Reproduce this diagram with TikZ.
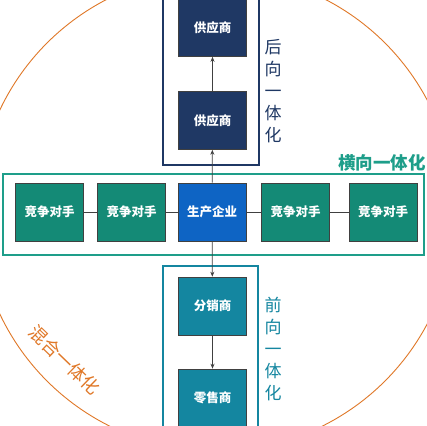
\documentclass[tikz,border=0pt]{standalone}
\usepackage{fontspec}
\newfontfamily\cjk{Noto Sans CJK SC}
\usetikzlibrary{arrows.meta}
\definecolor{navy}{RGB}{31,56,100}
\definecolor{teal1}{RGB}{20,138,118}
\definecolor{prodblue}{RGB}{14,100,196}
\definecolor{tealblue}{RGB}{20,134,160}
\definecolor{bandteal}{RGB}{30,158,138}
\definecolor{orng}{RGB}{224,120,40}
\definecolor{conn}{RGB}{64,64,64}
\tikzset{
  boxbase/.style={draw=black!75, line width=0.6pt, minimum width=68pt, minimum height=58pt, inner sep=0pt, text=white, font=\cjk\bfseries\fontsize{12.5}{14}\selectfont},
  supbox/.style={boxbase, fill=navy},
  compbox/.style={boxbase, fill=teal1},
  prodbox/.style={boxbase, fill=prodblue},
  distbox/.style={boxbase, fill=tealblue},
  conline/.style={draw=conn, line width=0.8pt},
  conarrow/.style={conline, -{Stealth[length=5pt,width=4pt]}},
  vlabel/.style={align=center, inner sep=0pt, font=\cjk\fontsize{17}{22}\selectfont}
}
\begin{document}
\begin{tikzpicture}[x=1pt,y=-1pt]
\useasboundingbox (0,0) rectangle (427,425);
\clip (0,0) rectangle (427,425);
\fill[white] (0,0) rectangle (427,425);
% mixed integration circle
\draw[orng, line width=0.9pt] (216,212) circle[radius=239pt];
% group frames
\draw[navy, line width=1.2pt] (163,-5) rectangle (259,165);
\draw[tealblue, line width=1.2pt] (163,266) rectangle (258,432);
\draw[bandteal, line width=1.3pt] (3,174) rectangle (424,255);
% nodes
\node[supbox] (s1) at (212.5,27.5) {供应商};
\node[supbox] (s2) at (212.5,120.5) {供应商};
\node[compbox] (c1) at (49.5,212) {竞争对手};
\node[compbox] (c2) at (131.5,212) {竞争对手};
\node[prodbox] (p) at (212,212) {生产企业};
\node[compbox] (c3) at (295.5,212) {竞争对手};
\node[compbox] (c4) at (383,212) {竞争对手};
\node[distbox] (d1) at (212.5,306) {分销商};
\node[distbox] (d2) at (212.5,398) {零售商};
% connectors
\draw[conarrow] (s2) -- (s1);
\draw[conarrow] (p) -- (s2);
\draw[conarrow] (p) -- (d1);
\draw[conarrow] (d1) -- (d2);
\draw[conline] (c1) -- (c2);
\draw[conline] (c2) -- (p);
\draw[conline] (p) -- (c3);
\draw[conline] (c3) -- (c4);
% labels
\node[vlabel, text=navy] (lb) at (273,91) {后\\向\\一\\体\\化};
\node[vlabel, text=tealblue] (lf) at (273,349) {前\\向\\一\\体\\化};
\node[inner sep=0pt, text=bandteal, font=\cjk\bfseries\fontsize{17.5}{20}\selectfont] (lh) at (382,163) {横向一体化};
\node[inner sep=0pt, rotate=-44, text=orng, font=\cjk\fontsize{18}{20}\selectfont] (lm) at (65,360) {混合一体化};
\end{tikzpicture}
\end{document}
